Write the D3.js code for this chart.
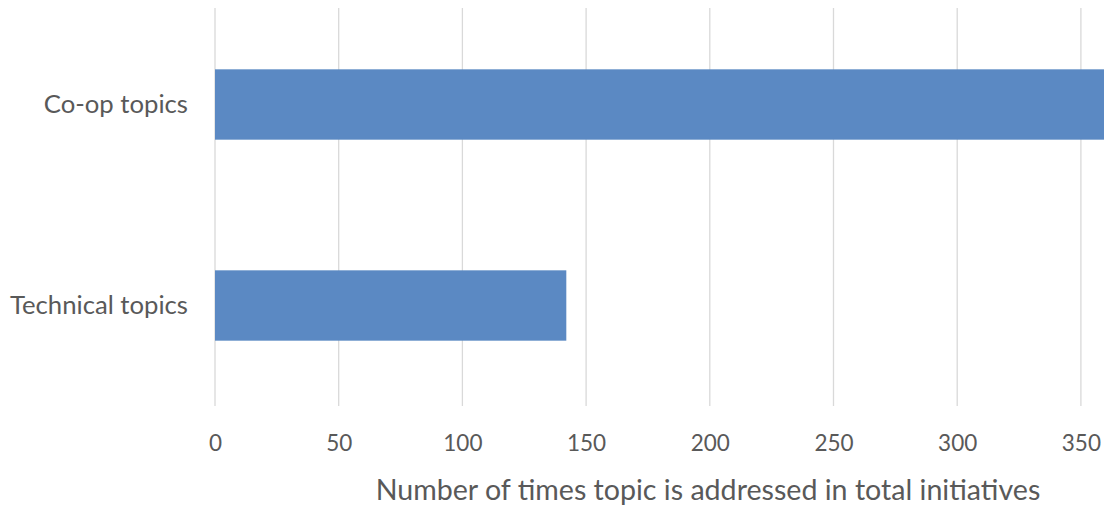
<!DOCTYPE html>
<html>
<head>
<meta charset="utf-8">
<script src="https://cdn.jsdelivr.net/npm/d3@7"></script>
<style>
  html, body { margin: 0; padding: 0; background: #fff; }
  svg { display: block; }
  text { font-family: Lato, "Open Sans", sans-serif; fill: #595959; }
</style>
</head>
<body>
<svg id="chart" width="1104" height="506"></svg>
<script>
// Topic categories, top to bottom
const categories = ["Co-op topics", "Technical topics"];
// Number of times each topic is addressed
const counts = [362, 142];
// Axis tick values
const tickValues = [0, 50, 100, 150, 200, 250, 300, 350, 400];
const axisTitle = "Number of times topic is addressed in total initiatives";

const svg = d3.select("#chart");
const W = 1104, H = 506;

// Plot area extends past the right edge, so the longest bar runs off the page
const x = d3.scaleLinear().domain([0, 400]).range([215, 215 + 4 * 247.4]);
const y = d3.scaleBand().domain(categories).range([4, 406]).paddingInner(0.65).paddingOuter(0.325);

svg.append("defs").append("clipPath").attr("id", "plot-clip")
  .append("rect").attr("x", 0).attr("y", 0).attr("width", W).attr("height", H);

const plot = svg.append("g").attr("clip-path", "url(#plot-clip)");

// Vertical gridlines
plot.append("g").selectAll("line")
  .data(tickValues)
  .join("line")
  .attr("x1", d => x(d)).attr("x2", d => x(d))
  .attr("y1", 8).attr("y2", 406)
  .attr("stroke", "#d9d9d9").attr("stroke-width", 1.3);

// Bars
plot.append("g").selectAll("rect")
  .data(categories)
  .join("rect")
  .attr("x", x(0))
  .attr("y", d => y(d))
  .attr("width", (d, i) => x(counts[i]) - x(0))
  .attr("height", y.bandwidth())
  .attr("fill", "#5b89c3");

// Tick labels along the bottom (only those inside the page)
const xAxis = d3.axisBottom(x).tickValues(tickValues.filter(v => x(v) < W)).tickSize(0).tickPadding(0);
const gx = svg.append("g").attr("transform", "translate(0,443)").call(xAxis);
gx.select(".domain").remove();
gx.selectAll("text")
  .attr("dy", "0.35em")
  .style("font-size", "22.5px")
  .style("font-family", "Lato, 'Open Sans', sans-serif")
  .attr("fill", "#595959");

// Category labels
const yAxis = d3.axisLeft(y).tickSize(0).tickPadding(0);
const gy = svg.append("g").attr("transform", "translate(188,0)").call(yAxis);
gy.select(".domain").remove();
gy.selectAll("text")
  .style("font-size", "25.7px")
  .style("font-family", "Lato, 'Open Sans', sans-serif")
  .attr("fill", "#595959");

// Axis title
svg.append("text")
  .attr("x", 708).attr("y", 490)
  .attr("text-anchor", "middle")
  .attr("dy", "0.35em")
  .style("font-size", "28.6px")
  .text(axisTitle);
</script>
</body>
</html>
